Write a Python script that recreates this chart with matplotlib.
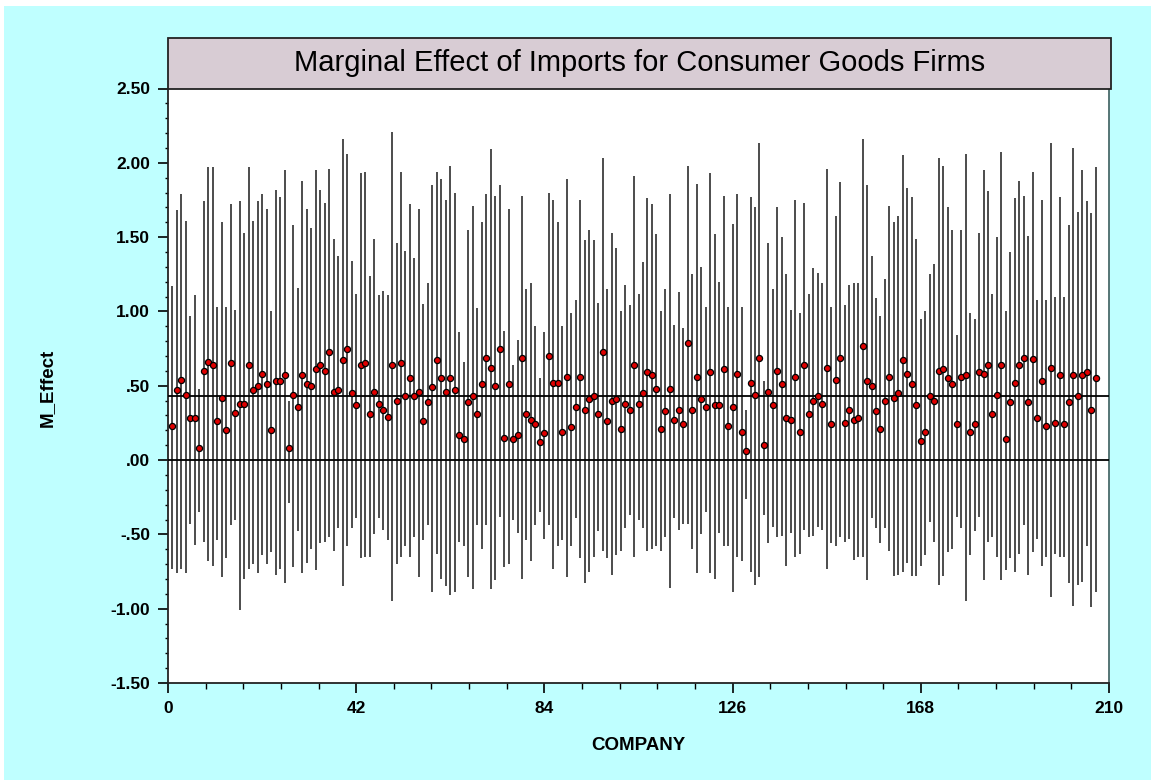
import numpy as np
import matplotlib.pyplot as plt
from matplotlib.patches import Rectangle
from matplotlib.ticker import MultipleLocator, FuncFormatter

plt.rcParams['font.family'] = ['Liberation Sans', 'DejaVu Sans']

# marginal effect (dot) and its upper / lower bounds, company 1..207
m_effect = [
    0.23, 0.47, 0.54, 0.44, 0.28, 0.28, 0.08, 0.60, 0.66, 0.64,
    0.26, 0.42, 0.20, 0.65, 0.32, 0.38, 0.38, 0.64, 0.47, 0.50,
    0.58, 0.51, 0.20, 0.53, 0.53, 0.57, 0.08, 0.44, 0.36, 0.57,
    0.51, 0.50, 0.61, 0.64, 0.60, 0.73, 0.46, 0.47, 0.67, 0.75,
    0.45, 0.37, 0.64, 0.65, 0.31, 0.46, 0.38, 0.34, 0.29, 0.64,
    0.40, 0.65, 0.43, 0.55, 0.43, 0.46, 0.26, 0.39, 0.49, 0.67,
    0.55, 0.46, 0.55, 0.47, 0.17, 0.14, 0.39, 0.43, 0.31, 0.51,
    0.69, 0.62, 0.50, 0.75, 0.15, 0.51, 0.14, 0.17, 0.69, 0.31,
    0.27, 0.24, 0.12, 0.18, 0.70, 0.52, 0.52, 0.19, 0.56, 0.22,
    0.36, 0.56, 0.34, 0.41, 0.43, 0.31, 0.73, 0.26, 0.40, 0.41,
    0.21, 0.38, 0.34, 0.64, 0.38, 0.45, 0.59, 0.57, 0.48, 0.21,
    0.33, 0.48, 0.27, 0.34, 0.24, 0.79, 0.34, 0.56, 0.41, 0.36,
    0.59, 0.37, 0.37, 0.61, 0.23, 0.36, 0.58, 0.19, 0.06, 0.52,
    0.44, 0.69, 0.10, 0.46, 0.37, 0.60, 0.51, 0.28, 0.27, 0.56,
    0.19, 0.64, 0.31, 0.40, 0.43, 0.38, 0.62, 0.24, 0.54, 0.69,
    0.25, 0.34, 0.27, 0.28, 0.77, 0.53, 0.50, 0.33, 0.21, 0.40,
    0.56, 0.42, 0.45, 0.67, 0.58, 0.51, 0.37, 0.13, 0.19, 0.43,
    0.40, 0.60, 0.61, 0.55, 0.51, 0.24, 0.56, 0.57, 0.19, 0.24,
    0.59, 0.58, 0.64, 0.31, 0.44, 0.64, 0.14, 0.39, 0.52, 0.64,
    0.69, 0.39, 0.68, 0.28, 0.53, 0.23, 0.62, 0.25, 0.57, 0.24,
    0.39, 0.57, 0.43, 0.57, 0.59, 0.34, 0.55,
]
upper = [
    1.17, 1.68, 1.79, 1.61, 0.97, 1.11, 0.48, 1.74, 1.97, 1.97,
    1.03, 1.60, 1.03, 1.72, 1.01, 1.74, 1.53, 1.97, 1.61, 1.74,
    1.79, 1.69, 1.00, 1.82, 1.77, 1.95, 0.40, 1.58, 1.16, 1.88,
    1.69, 1.56, 1.95, 1.82, 1.73, 1.96, 1.49, 1.37, 2.16, 2.06,
    1.34, 1.12, 1.93, 1.94, 1.24, 1.49, 1.11, 1.14, 1.11, 2.21,
    1.46, 1.94, 1.41, 1.72, 1.36, 1.69, 1.05, 1.19, 1.85, 1.94,
    1.89, 1.75, 1.98, 1.80, 0.86, 0.66, 1.55, 1.71, 1.02, 1.60,
    1.79, 2.09, 1.78, 1.85, 0.87, 1.69, 0.64, 0.81, 1.78, 1.15,
    1.19, 0.90, 0.55, 0.86, 1.80, 1.75, 1.60, 0.90, 1.89, 0.99,
    1.08, 1.75, 1.48, 1.55, 1.48, 1.06, 2.03, 1.15, 1.53, 1.43,
    1.00, 1.18, 1.04, 1.91, 1.12, 1.33, 1.76, 1.72, 1.52, 1.00,
    1.15, 1.79, 0.91, 1.13, 0.89, 1.98, 1.25, 1.86, 1.30, 1.03,
    1.93, 1.52, 1.20, 1.78, 1.03, 1.59, 1.79, 1.03, 0.34, 1.77,
    1.70, 2.13, 0.53, 1.46, 1.15, 1.70, 1.50, 1.25, 1.01, 1.75,
    0.99, 1.73, 1.12, 1.29, 1.26, 1.19, 1.96, 1.03, 1.64, 1.87,
    1.04, 1.18, 1.19, 1.19, 2.16, 1.85, 1.37, 1.09, 0.97, 1.22,
    1.71, 1.60, 1.64, 2.05, 1.83, 1.77, 1.49, 0.95, 1.00, 1.25,
    1.32, 2.03, 1.98, 1.70, 1.55, 0.84, 1.55, 2.06, 0.99, 0.95,
    1.53, 1.95, 1.81, 1.12, 1.50, 2.07, 1.00, 1.40, 1.76, 1.88,
    1.78, 1.51, 1.94, 1.08, 1.75, 1.08, 2.13, 1.10, 1.77, 1.10,
    1.58, 2.10, 1.67, 1.95, 1.74, 1.66, 1.97,
]
lower = [
    -0.73, -0.76, -0.73, -0.76, -0.43, -0.57, -0.35, -0.55, -0.68, -0.71,
    -0.54, -0.79, -0.66, -0.44, -0.40, -1.01, -0.80, -0.73, -0.70, -0.76,
    -0.64, -0.70, -0.62, -0.77, -0.73, -0.83, -0.29, -0.72, -0.48, -0.76,
    -0.69, -0.60, -0.74, -0.56, -0.55, -0.52, -0.61, -0.46, -0.85, -0.58,
    -0.46, -0.39, -0.66, -0.65, -0.65, -0.50, -0.39, -0.47, -0.54, -0.95,
    -0.70, -0.65, -0.58, -0.65, -0.52, -0.79, -0.54, -0.44, -0.89, -0.63,
    -0.80, -0.85, -0.91, -0.89, -0.55, -0.58, -0.79, -0.87, -0.44, -0.60,
    -0.44, -0.87, -0.81, -0.38, -0.72, -0.70, -0.40, -0.49, -0.80, -0.54,
    -0.68, -0.44, -0.35, -0.53, -0.44, -0.73, -0.58, -0.54, -0.79, -0.58,
    -0.39, -0.66, -0.83, -0.75, -0.65, -0.48, -0.61, -0.66, -0.77, -0.64,
    -0.61, -0.46, -0.37, -0.65, -0.40, -0.46, -0.61, -0.60, -0.58, -0.61,
    -0.52, -0.86, -0.39, -0.47, -0.43, -0.43, -0.60, -0.76, -0.50, -0.35,
    -0.76, -0.80, -0.49, -0.58, -0.58, -0.89, -0.65, -0.68, -0.26, -0.75,
    -0.84, -0.79, -0.37, -0.56, -0.45, -0.52, -0.51, -0.71, -0.49, -0.65,
    -0.63, -0.47, -0.52, -0.51, -0.45, -0.47, -0.73, -0.56, -0.58, -0.52,
    -0.55, -0.53, -0.67, -0.65, -0.65, -0.81, -0.39, -0.46, -0.56, -0.46,
    -0.61, -0.78, -0.77, -0.75, -0.69, -0.78, -0.78, -0.71, -0.64, -0.42,
    -0.55, -0.84, -0.78, -0.62, -0.60, -0.38, -0.46, -0.95, -0.64, -0.48,
    -0.38, -0.81, -0.55, -0.52, -0.65, -0.81, -0.74, -0.66, -0.75, -0.63,
    -0.44, -0.77, -0.62, -0.53, -0.71, -0.65, -0.92, -0.63, -0.65, -0.65,
    -0.83, -0.98, -0.84, -0.82, -0.58, -0.99, -0.89,
]
company = np.arange(1, len(m_effect) + 1)
mean_effect = 0.43
title = "Marginal Effect of Imports for Consumer Goods Firms"

W, H = 1151, 780
fig = plt.figure(figsize=(W / 100, H / 100), dpi=100, facecolor='white')
# cyan page background (thin white strip top/left as in the screenshot)
fig.patches.append(Rectangle((4 / W, 0), 1, 1 - 6 / H, transform=fig.transFigure,
                             facecolor='#bfffff', edgecolor='none', zorder=-10))

x0, x1, ytop, ybot = 168, 1109, 88.5, 683
ax = fig.add_axes([x0 / W, 1 - ybot / H, (x1 - x0) / W, (ybot - ytop) / H])
ax.set_facecolor('white')

# title box
fig.patches.append(Rectangle((x0 / W, 1 - ytop / H), (1111 - x0) / W, (ytop - 37.5) / H,
                             transform=fig.transFigure, facecolor='#d8ccd4',
                             edgecolor='#222222', linewidth=1.3, zorder=2))
fig.text((x0 + 1111) / 2 / W, 1 - 63 / H, title, ha='center', va='center',
         fontsize=21, zorder=3)

ax.vlines(company, lower, upper, color='#2e2e2e', linewidth=1.2, zorder=2)
ax.axhline(0, color='black', linewidth=1.3, zorder=3)
ax.axhline(mean_effect, color='black', linewidth=1.3, zorder=3)
ax.plot(company, m_effect, 'o', markersize=4.4, markerfacecolor='#e00000',
        markeredgecolor='black', markeredgewidth=0.9, zorder=4)

ax.set_xlim(0, 210)
ax.set_ylim(-1.5, 2.5)
ax.xaxis.set_major_locator(MultipleLocator(42))
ax.xaxis.set_minor_locator(MultipleLocator(8.4))
ax.yaxis.set_major_locator(MultipleLocator(0.5))
ax.yaxis.set_minor_locator(MultipleLocator(0.1))


def fmt(v, pos):
    s = f"{v:.2f}"
    return s.replace("0.", ".", 1) if s.lstrip('-').startswith("0.") else s


ax.yaxis.set_major_formatter(FuncFormatter(fmt))
ax.tick_params(axis='both', which='major', direction='out', length=7, width=1.2,
               labelsize=12.5, pad=6)
ax.tick_params(axis='y', which='minor', direction='out', length=2.5, width=1.0)
ax.tick_params(axis='x', which='minor', direction='out', length=4, width=1.0)
for lab in ax.get_xticklabels() + ax.get_yticklabels():
    lab.set_fontweight('bold')

for side in ['left', 'bottom']:
    ax.spines[side].set_linewidth(1.3)
    ax.spines[side].set_color('#222222')
ax.spines['top'].set_visible(False)
ax.spines['right'].set_color('#4a6a6a')
ax.spines['right'].set_linewidth(1.3)

fig.text(638 / W, 1 - 745 / H, 'COMPANY', ha='center', va='center',
         fontsize=13.5, fontweight='bold')
fig.text(47 / W, 1 - 388 / H, 'M_Effect', ha='center', va='center',
         fontsize=13.5, fontweight='bold', rotation=90)

fig.savefig('out.png', dpi=100, facecolor=fig.get_facecolor())
